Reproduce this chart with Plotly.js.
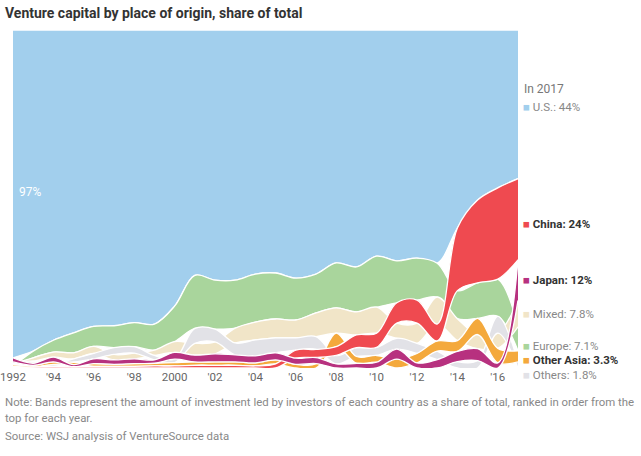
<!DOCTYPE html>
<html><head><meta charset="utf-8">
<script src="https://cdn.plot.ly/plotly-3.0.1.min.js"></script>
<style>html,body{margin:0;padding:0;background:#fff}</style>
</head><body>
<div id="chart" style="width:641px;height:456px"></div>
<script>
const years = [1992,1993,1994,1995,1996,1997,1998,1999,2000,2001,2002,2003,2004,2005,2006,2007,2008,2009,2010,2011,2012,2013,2014,2015,2016,2017];
const tickYears = [1992,1994,1996,1998,2000,2002,2004,2006,2008,2010,2012,2014,2016];
const tickLabels = ['1992',"'94","'96","'98",'2000',"'02","'04","'06","'08","'10","'12","'14","'16"];

// share of total, %
const usShare        = [97,95,91.8,89.6,87.7,87.5,86.6,87,81.7,72.6,74,74,72.2,71.9,73.4,72.2,68.9,70.1,66.9,68.3,67.5,69,58.6,50.3,46.7,44];
const europeShare    = [0.3,2,3.5,5.9,5.9,6.5,7.1,7.7,10.5,15.7,14.5,14.2,14.2,13.6,12.4,11.5,13.3,13.3,15.1,12.4,12.4,10,8.3,10.5,11,7.1];
const mixedShare     = [0.4,1.0,1.5,1.8,2.1,1.6,1.7,1.6,3.2,3.5,3.5,4.4,5.3,5.6,5.3,7.0,7.5,6.8,7.7,4.5,6.0,8.0,6.5,4.2,4.5,7.8];
const othersShare    = [0.5,0.6,0.6,1.0,1.6,2.0,1.9,1.3,1.0,4.4,3.8,3.5,4.7,4.4,3.6,3.8,2.5,2.6,2.4,3.2,3.0,2.5,1.9,2.2,5.0,1.8];
const otherAsiaShare = [0.4,0.5,0.7,0.7,0.8,0.6,0.8,0.8,1.0,1.0,1.0,1.0,0.9,1.2,1.1,1.3,4.0,2.0,2.0,2.6,2.8,3.0,3.2,4.8,4.3,3.3];
const chinaShare     = [0.2,0.3,0.5,0.4,0.5,0.5,0.5,0.6,0.6,0.8,0.8,0.8,0.6,1.2,2.4,2.4,2.6,3.8,4.2,6.0,6.8,5.0,18.5,24.5,27.0,24];
const japanShare     = [1.2,0.6,1.4,0.6,1.4,1.3,1.4,1.0,2.0,2.0,2.4,2.1,2.1,2.1,1.8,1.8,1.2,1.4,1.7,3.0,1.5,2.5,3.0,3.5,1.5,12];

const regionNames  = ['U.S.','Europe','Mixed','Others','Other Asia','China','Japan'];
const regionValues = [usShare,europeShare,mixedShare,othersShare,otherAsiaShare,chinaShare,japanShare];
const regionColors = ['#a2cfed','#a9d59c','#f1e5c8','#e2e2e7','#f4a93c','#ef4a50','#b7317f'];

// ranked stacking: largest on top each year
const lower = regionValues.map(() => []);
const upper = regionValues.map(() => []);
years.forEach((yr, i) => {
  const tot = regionValues.reduce((s, v) => s + v[i], 0);
  const order = regionValues.map((v, k) => k).sort((a, b) => regionValues[b][i] - regionValues[a][i]);
  let top = 100;
  order.forEach(k => {
    const h = regionValues[k][i] / tot * 100;
    upper[k][i] = top;
    lower[k][i] = top - h;
    top -= h;
  });
});

const traces = [];
regionNames.forEach((name, k) => {
  traces.push({x: years, y: lower[k], mode: 'lines', line: {shape: 'spline', color: '#ffffff', width: 1.3},
    hoverinfo: 'skip', showlegend: false});
  traces.push({x: years, y: upper[k], mode: 'lines', fill: 'tonexty', fillcolor: regionColors[k],
    line: {shape: 'spline', color: '#ffffff', width: 1.3}, name: name, showlegend: false});
});

const F = 'Roboto, "Open Sans", sans-serif';
const px = x => (x - 13) / 505;
const py = y => (368 - y) / 338;
const sq = c => '<span style="color:' + c + '">■</span> ';
const legendItems = [
  {t: sq(regionColors[0]) + 'U.S.: 44%', y: 107, b: false},
  {t: sq(regionColors[5]) + '<b>China: 24%</b>', y: 224, b: true},
  {t: sq(regionColors[6]) + '<b>Japan: 12%</b>', y: 280, b: true},
  {t: sq(regionColors[2]) + 'Mixed: 7.8%', y: 314, b: false},
  {t: sq(regionColors[1]) + 'Europe: 7.1%', y: 346, b: false},
  {t: sq(regionColors[4]) + '<b>Other Asia: 3.3%</b>', y: 359.5, b: true},
  {t: sq(regionColors[3]) + 'Others: 1.8%', y: 375, b: false}
];
const annotations = [
  {xref: 'paper', yref: 'paper', x: px(522), y: py(89), xanchor: 'left', yanchor: 'middle', showarrow: false,
   text: 'In 2017', font: {family: F, size: 12, color: '#777'}},
  {xref: 'x', yref: 'y', x: 1992, y: 52, xanchor: 'left', yanchor: 'middle', xshift: 4, showarrow: false,
   text: '97%', font: {family: F, size: 12, color: '#ffffff'}},
  {xref: 'paper', yref: 'paper', x: px(3), y: py(402), xanchor: 'left', yanchor: 'middle', showarrow: false,
   text: 'Note: Bands represent the amount of investment led by investors of each country as a share of total, ranked in order from the',
   font: {family: F, size: 11.4, color: '#888'}},
  {xref: 'paper', yref: 'paper', x: px(3), y: py(418), xanchor: 'left', yanchor: 'middle', showarrow: false,
   text: 'top for each year.', font: {family: F, size: 11.4, color: '#888'}},
  {xref: 'paper', yref: 'paper', x: px(3), y: py(436), xanchor: 'left', yanchor: 'middle', showarrow: false,
   text: 'Source: WSJ analysis of VentureSource data', font: {family: F, size: 11.4, color: '#888'}}
];
legendItems.forEach(it => annotations.push({xref: 'paper', yref: 'paper', x: px(521), y: py(it.y),
  xanchor: 'left', yanchor: 'middle', showarrow: false, text: it.t,
  font: {family: F, size: 11.5, color: it.b ? '#333' : '#888'}}));

const layout = {
  width: 641, height: 456,
  margin: {l: 13, r: 123, t: 30, b: 88, pad: 0},
  paper_bgcolor: '#ffffff', plot_bgcolor: '#ffffff',
  title: {text: '<b>Venture capital by place of origin, share of total</b>', x: 5/641, xanchor: 'left',
    y: 1 - 13/456, yanchor: 'middle', font: {family: F, size: 14, color: '#333'}},
  xaxis: {range: [1992, 2017], tickvals: tickYears, ticktext: tickLabels, showgrid: false, zeroline: false,
    showline: false, ticks: '', tickfont: {family: F, size: 11.5, color: '#666'}, fixedrange: true},
  yaxis: {range: [0, 100], visible: false, fixedrange: true},
  annotations: annotations,
  showlegend: false
};
Plotly.newPlot('chart', traces, layout, {displayModeBar: false, staticPlot: true});
</script>
</body></html>
